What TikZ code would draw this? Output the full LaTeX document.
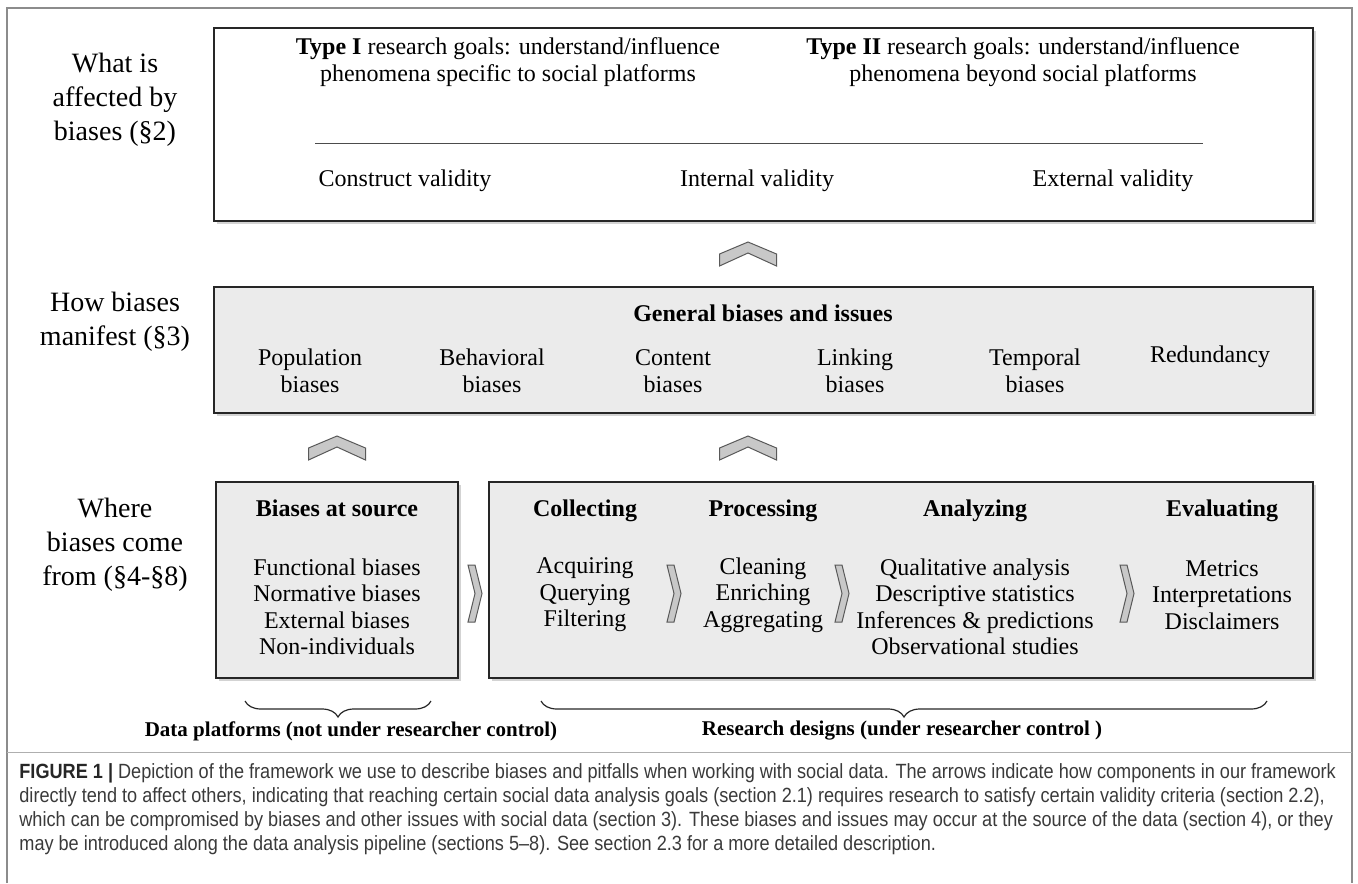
\documentclass[tikz,border=0pt]{standalone}
\usepackage{fontspec}
\setmainfont{Liberation Serif}
\newfontfamily\capfont[FakeStretch=0.88,Ligatures=TeX]{Liberation Sans}
\usetikzlibrary{shadows,decorations.pathreplacing,calc}
\definecolor{panelgray}{HTML}{EBEBEB}
\definecolor{chevgray}{HTML}{C8C8C8}
\definecolor{framegray}{HTML}{8C8C8C}
\definecolor{captext}{HTML}{3A3A3A}

% chevron pointing up, apex at (#1,#2)
\newcommand\upchev[2]{%
  \draw[chev] (#1,#2) -- ++(-28.5,12) -- ++(0,12) -- ++(28.5,-13)
    -- ++(28.5,13) -- ++(0,-12) -- cycle;}
% chevron pointing right, top-left corner at (#1,#2)
\newcommand\rightchev[2]{%
  \draw[chev] (#1,#2) -- ++(7,0) -- ++(7,28.5) -- ++(-7,28.5)
    -- ++(-7,0) -- ++(7,-28.5) -- cycle;}

\begin{document}
\begin{tikzpicture}[x=0.5pt,y=-0.5pt,
  panel/.style={draw=black!85, line width=0.8pt, inner sep=0pt,
    drop shadow={shadow xshift=1.3pt, shadow yshift=-1.3pt, opacity=0.35}},
  whitepanel/.style={panel, fill=white},
  graypanel/.style={panel, fill=panelgray},
  chev/.style={draw=black!65, line width=0.5pt, fill=chevgray, line join=miter},
  tier/.style={align=center, inner sep=0pt, font=\fontsize{14}{17}\selectfont},
  body/.style={align=center, inner sep=0pt, font=\fontsize{12}{13.25}\selectfont},
  head/.style={body, anchor=base, font=\fontsize{12}{13.25}\selectfont\bfseries},
  bracelabel/.style={inner sep=0pt, font=\fontsize{10.5}{12}\selectfont\bfseries},
  bracestyle/.style={decorate, decoration={brace, mirror, amplitude=8pt},
    line width=0.6pt, draw=black!85},
  frame/.style={draw=framegray, line width=0.8pt}]
\useasboundingbox (0,0) rectangle (1358,883);

% outer frame, open at the bottom
\draw[frame] (7,883) -- (7,8) -- (1352,8) -- (1352,883);

% tier labels
\node[tier] (lab1) at (115,100) {What is\\affected by\\biases (§2)};
\node[tier] (lab2) at (115,322) {How biases\\manifest (§3)};
\node[tier] (lab3) at (115,545) {Where\\biases come\\from (§4-§8)};

% panels
\node[whitepanel, minimum width=549.5pt, minimum height=96.5pt] (top) at (763.5,124.5) {};
\node[graypanel, minimum width=549.5pt, minimum height=63pt] (mid) at (763.5,350) {};
\node[graypanel, minimum width=121pt, minimum height=98pt] (src) at (337,580) {};
\node[graypanel, minimum width=412pt, minimum height=98pt] (res) at (901,580) {};

% research goals and validity
\node[body] (goal1) at (508,62) {\textbf{Type I} research goals: understand/influence\\phenomena specific to social platforms};
\node[body] (goal2) at (1023,62) {\textbf{Type II} research goals: understand/influence\\phenomena beyond social platforms};
\draw[draw=black!70, line width=0.5pt] (315,143) -- (1203,143);
\node[body, anchor=base] (v1) at (405,186) {Construct validity};
\node[body, anchor=base] (v2) at (757,186) {Internal validity};
\node[body, anchor=base] (v3) at (1113,186) {External validity};

% general biases
\node[head] (gen) at (763,321) {General biases and issues};
\node[body] (g1) at (310,371) {Population\\biases};
\node[body] (g2) at (492,371) {Behavioral\\biases};
\node[body] (g3) at (673,371) {Content\\biases};
\node[body] (g4) at (855,371) {Linking\\biases};
\node[body] (g5) at (1035,371) {Temporal\\biases};
\node[body, anchor=base] (g6) at (1210,362) {Redundancy};

% biases at source
\node[head] (srch) at (337,516) {Biases at source};
\node[body] (srcl) at (337,607) {Functional biases\\Normative biases\\External biases\\Non-individuals};

% research pipeline
\node[head] (c1h) at (585,516) {Collecting};
\node[body] (c1) at (585,595) {Acquiring\\Querying\\Filtering};
\node[head] (c2h) at (763,516) {Processing};
\node[body] (c2) at (763,595) {Cleaning\\Enriching\\Aggregating};
\node[head] (c3h) at (975,516) {Analyzing};
\node[body] (c3) at (975,607) {Qualitative analysis\\Descriptive statistics\\Inferences \& predictions\\Observational studies};
\node[head] (c4h) at (1222,516) {Evaluating};
\node[body] (c4) at (1222,595) {Metrics\\Interpretations\\Disclaimers};

% arrows between tiers and stages
\upchev{748}{242}
\upchev{337}{436}
\upchev{748}{436}
\rightchev{468}{565}
\rightchev{667}{565}
\rightchev{835}{565}
\rightchev{1120}{565}

% braces
\coordinate (b1a) at (245,701);
\coordinate (b1b) at (431,701);
\coordinate (b2a) at (541,701);
\coordinate (b2b) at (1267,701);
\draw[bracestyle] (b1a) -- (b1b);
\draw[bracestyle] (b2a) -- (b2b);
\node[bracelabel] (plat) at (351,731) {Data platforms (not under researcher control)};
\node[bracelabel] (desg) at (902,731) {Research designs (under researcher control )};

% caption
\draw[draw=framegray!70, line width=0.5pt] (7,752) -- (1352,752);
\node[anchor=north west, align=left, inner sep=0pt, text=captext,
  font=\capfont\fontsize{10.3}{12}\selectfont] (cap) at (19,763)
  {{\color{black!85}\bfseries FIGURE 1 |} Depiction of the framework we use to describe biases and pitfalls when working with social data. The arrows indicate how components in our framework\\
   directly tend to affect others, indicating that reaching certain social data analysis goals (section 2.1) requires research to satisfy certain validity criteria (section 2.2),\\
   which can be compromised by biases and other issues with social data (section 3). These biases and issues may occur at the source of the data (section 4), or they\\
   may be introduced along the data analysis pipeline (sections 5–8). See section 2.3 for a more detailed description.};
\end{tikzpicture}
\end{document}
